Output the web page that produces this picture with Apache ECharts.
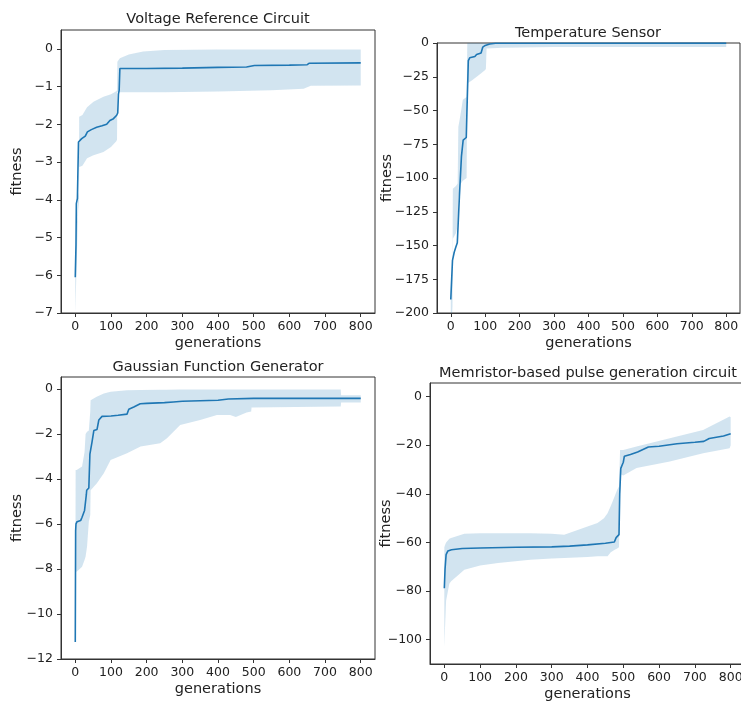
<!DOCTYPE html>
<html>
<head>
<meta charset="utf-8">
<title>fitness over generations</title>
<script src="https://cdn.jsdelivr.net/npm/echarts@6/dist/echarts.min.js"></script>
<style>
html, body { margin: 0; padding: 0; background: #fff; }
#main { width: 741px; height: 708px; }
</style>
</head>
<body>
<div id="main"></div>
<script>
// shared x ticks
const xTicks = [0, 100, 200, 300, 400, 500, 600, 700, 800]

// Voltage Reference Circuit
const vrTicks = [-7, -6, -5, -4, -3, -2, -1, 0]
const vrX = [0, 2, 3, 6, 9, 18, 28, 34, 45, 60, 75, 88, 97, 107, 116, 119, 121, 123, 125, 200, 300, 400, 480, 502, 600, 650, 656, 800]
const vrMean = [-6.05, -5.2, -4.1, -3.96, -2.47, -2.38, -2.31, -2.2, -2.14, -2.08, -2.04, -2.0, -1.9, -1.85, -1.76, -1.7, -1.2, -1.1, -0.52, -0.52, -0.51, -0.49, -0.48, -0.44, -0.43, -0.42, -0.38, -0.37]
const vrBX = [0, 3, 8, 10, 11, 20, 33, 51, 79, 100, 115, 117, 118, 125, 150, 190, 250, 400, 550, 640, 660, 800]
const vrLo = [-7.0, -6.0, -4.3, -4.1, -3.13, -3.1, -2.9, -2.82, -2.73, -2.6, -2.45, -2.4, -1.14, -1.15, -1.15, -1.15, -1.15, -1.13, -1.1, -1.06, -0.98, -0.97]
const vrHi = [-5.9, -5.0, -3.9, -3.8, -1.8, -1.75, -1.55, -1.4, -1.27, -1.2, -1.12, -1.1, -0.34, -0.25, -0.15, -0.07, -0.03, -0.02, -0.02, -0.02, -0.02, -0.02]

// Temperature Sensor
const tsTicks = [-200, -175, -150, -125, -100, -75, -50, -25, 0]
const tsX = [0, 5, 10, 15, 19, 25, 31, 36, 40, 45, 47, 51, 55, 70, 75, 88, 93, 100, 113, 130, 800]
const tsMean = [-190, -161, -155, -151, -148, -114, -84, -72, -71, -70, -50, -13, -11, -10, -8.5, -7.4, -3, -1.8, -0.7, -0.2, -0.1]
const tsBX = [0, 3, 5, 6, 15, 20, 22, 27, 35, 46, 48, 60, 80, 100, 102, 104, 150, 300, 800]
const tsLo = [-200, -205, -195, -145, -141, -135, -115, -105, -102, -100, -30, -28, -24, -20, -19, -4, -3.5, -3, -3]
const tsHi = [-185, -175, -160, -108, -106, -104, -62, -55, -42, -40, 0, 0, 0, 0, 0, 0, 0, 0, 0]

// Gaussian Function Generator
const gfTicks = [-12, -10, -8, -6, -4, -2, 0]
const gfX = [0, 1, 2, 5, 15, 19, 26, 31, 32, 38, 41, 47, 52, 55, 61, 66, 75, 100, 120, 145, 150, 164, 182, 200, 250, 275, 300, 400, 429, 500, 800]
const gfMean = [-11.25, -6.3, -6.0, -5.9, -5.85, -5.7, -5.4, -4.7, -4.5, -4.4, -2.9, -2.35, -1.85, -1.82, -1.8, -1.38, -1.22, -1.2, -1.17, -1.12, -0.9, -0.8, -0.66, -0.64, -0.61, -0.58, -0.55, -0.5, -0.45, -0.42, -0.42]
const gfBX = [0, 1, 4, 19, 26, 29, 33, 38, 42, 43, 60, 80, 99, 145, 183, 238, 257, 294, 350, 397, 434, 450, 480, 493, 494, 740, 744, 745, 800]
const gfLo = [-11.6, -8.1, -8.12, -7.9, -7.6, -7.45, -7.0, -5.9, -5.6, -4.5, -4.2, -3.75, -3.16, -2.86, -2.56, -2.41, -2.19, -1.6, -1.38, -1.16, -1.16, -1.25, -1.05, -1.0, -0.82, -0.78, -0.78, -0.6, -0.6]
const gfHi = [-11.0, -3.6, -3.6, -3.45, -2.8, -2.0, -1.9, -1.85, -1.0, -0.5, -0.35, -0.2, -0.12, -0.06, -0.05, -0.04, -0.04, -0.03, -0.03, -0.03, -0.03, -0.03, -0.03, -0.03, -0.03, -0.03, -0.03, -0.28, -0.28]

// Memristor-based pulse generation circuit
const mpTicks = [-100, -80, -60, -40, -20, 0]
const mpX = [0, 2, 5, 10, 20, 50, 100, 200, 300, 350, 400, 450, 475, 480, 488, 490, 493, 500, 503, 520, 540, 570, 600, 650, 700, 725, 740, 760, 780, 800]
const mpMean = [-78.8, -71, -65, -63.5, -63, -62.5, -62.3, -62, -61.8, -61.5, -61, -60.3, -59.8, -58, -56.8, -40, -29.5, -27, -24.5, -23.8, -22.8, -20.7, -20.4, -19.4, -18.8, -18.4, -17.2, -16.7, -16.2, -15.3]
const mpBX = [0, 2, 5, 14, 19, 56, 100, 150, 240, 300, 335, 400, 428, 446, 456, 465, 476, 483, 488, 491, 494, 500, 537, 630, 723, 797, 800]
const mpLo = [-103, -95, -84, -77, -76, -71.2, -69.5, -68.5, -67.1, -66.6, -66.4, -66, -65.7, -65.7, -65.7, -64, -63, -62.5, -62, -40, -32, -32.5, -29.4, -26.7, -23.3, -21.2, -20]
const mpHi = [-62, -61, -60, -58.5, -58.2, -56.4, -56.2, -56.2, -56.2, -56.4, -56.8, -53.4, -52, -50, -48, -45, -41, -38.3, -37, -22, -22, -22, -20.5, -17.1, -13.7, -8.2, -8.5]

const FONT = 'DejaVu Sans'
const BLUE = '#1f77b4'
const INK = '#222'

const panels = [
    { title: 'Voltage Reference Circuit', box: { left: 61, top: 30, width: 314, height: 283 }, titleTop: 7, titleX: 213,
      ymin: -7, ymax: 0.5, yTicks: vrTicks, x: vrX, mean: vrMean, bx: vrBX, lo: vrLo, hi: vrHi, yGap: 36 },
    { title: 'Temperature Sensor', box: { left: 437, top: 43, width: 303, height: 270 }, titleTop: 21, titleX: 583,
      ymin: -200, ymax: 0, yTicks: tsTicks, x: tsX, mean: tsMean, bx: tsBX, lo: tsLo, hi: tsHi, yGap: 42 },
    { title: 'Gaussian Function Generator', box: { left: 61, top: 377, width: 314, height: 282 }, titleTop: 355, titleX: 213,
      ymin: -12, ymax: 0.53, yTicks: gfTicks, x: gfX, mean: gfMean, bx: gfBX, lo: gfLo, hi: gfHi, yGap: 36 },
    { title: 'Memristor-based pulse generation circuit', box: { left: 430, top: 383, width: 315, height: 281 }, titleTop: 361, titleX: 583,
      ymin: -110, ymax: 5.6, yTicks: mpTicks, x: mpX, mean: mpMean, bx: mpBX, lo: mpLo, hi: mpHi, yGap: 36 }
]

function minus (v) {
    return v < 0 ? '\u2212' + Math.abs(v) : String(v)
}

let grids = []
let xAxes = []
let yAxes = []
let titles = []
let series = []

panels.forEach((p, i) => {
    grids.push(Object.assign({ show: true, outerBoundsMode: 'none', borderColor: '#333', borderWidth: 1, backgroundColor: '#fff' }, p.box))
    titles.push({
        text: p.title,
        left: p.titleX,
        top: p.titleTop,
        textAlign: 'center',
        textStyle: { fontFamily: FONT, fontSize: 14.5, fontWeight: 'normal', color: INK }
    })
    xAxes.push({
        type: 'value', gridIndex: i, min: -40, max: 840,
        name: 'generations', nameLocation: 'middle', nameGap: 23, nameMoveOverlap: false,
        nameTextStyle: { fontFamily: FONT, fontSize: 14.5, color: INK },
        axisLine: { show: true, onZero: false, lineStyle: { color: '#333', width: 1 } },
        axisTick: { show: true, length: 4, customValues: xTicks, lineStyle: { color: '#333' } },
        axisLabel: { customValues: xTicks, margin: 7, fontFamily: FONT, fontSize: 12.5, color: INK, formatter: minus },
        splitLine: { show: false }
    })
    yAxes.push({
        type: 'value', gridIndex: i, min: p.ymin, max: p.ymax,
        name: 'fitness', nameLocation: 'middle', nameGap: p.yGap, nameRotate: 90, nameMoveOverlap: false,
        nameTextStyle: { fontFamily: FONT, fontSize: 14.5, color: INK },
        axisLine: { show: true, onZero: false, lineStyle: { color: '#333', width: 1 } },
        axisTick: { show: true, length: 4, customValues: p.yTicks, lineStyle: { color: '#333' } },
        axisLabel: { customValues: p.yTicks, margin: 8, fontFamily: FONT, fontSize: 12.5, color: INK, formatter: minus },
        splitLine: { show: false }
    })
    // spread band (mean +- std), drawn as one polygon through the axis scales
    series.push({
        type: 'custom',
        xAxisIndex: i,
        yAxisIndex: i,
        silent: true,
        z: 1,
        encode: { x: 0, y: [1, 2] },
        data: p.bx.map((x, k) => [x, p.lo[k], p.hi[k]]),
        renderItem: function (params, api) {
            if (params.dataIndex !== 0) return
            let pts = []
            for (let k = 0; k < p.bx.length; k++) pts.push(api.coord([p.bx[k], p.hi[k]]))
            for (let k = p.bx.length - 1; k >= 0; k--) pts.push(api.coord([p.bx[k], p.lo[k]]))
            const cs = params.coordSys
            return {
                type: 'polygon',
                shape: { points: pts },
                style: { fill: 'rgba(31,119,180,0.2)', stroke: null },
                clipPath: { type: 'rect', shape: { x: cs.x, y: cs.y, width: cs.width, height: cs.height } }
            }
        }
    })
    series.push({
        type: 'line',
        xAxisIndex: i,
        yAxisIndex: i,
        z: 3,
        symbol: 'none',
        data: p.x.map((x, k) => [x, p.mean[k]]),
        lineStyle: { color: BLUE, width: 1.6 }
    })
})

let myChart = echarts.init(document.getElementById('main'))
myChart.setOption({
    animation: false,
    title: titles,
    grid: grids,
    xAxis: xAxes,
    yAxis: yAxes,
    series: series
})
window.onresize = myChart.resize
</script>
</body>
</html>
